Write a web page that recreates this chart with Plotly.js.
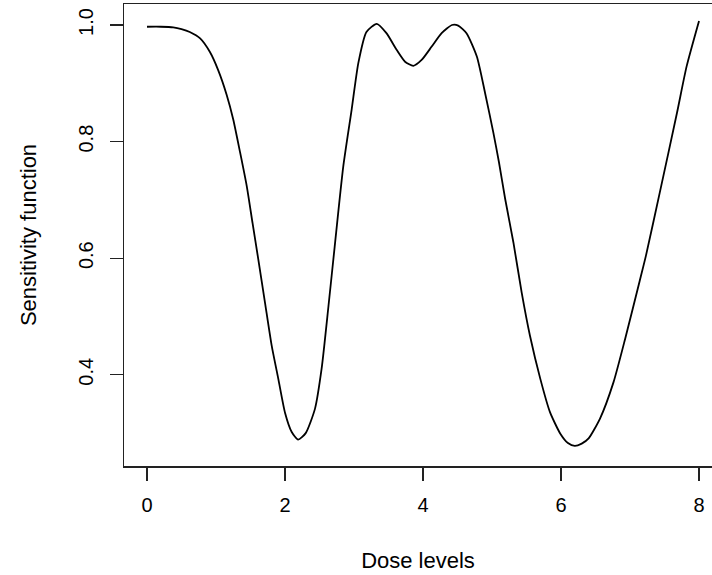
<!DOCTYPE html>
<html>
<head>
<meta charset="utf-8">
<script src="https://cdn.plot.ly/plotly-3.0.1.min.js"></script>
<style>html,body{margin:0;padding:0;background:#fff;}#chart{width:712px;height:575px;}</style>
</head>
<body>
<div id="chart"></div>
<script>
const doseLevels = [0, 0.2, 0.38, 0.5, 0.62, 0.77, 0.91, 1.03, 1.155, 1.25, 1.35, 1.445, 1.53, 1.613, 1.71, 1.807, 1.903, 2.0, 2.097, 2.19, 2.30, 2.435, 2.53, 2.63, 2.72, 2.845, 2.966, 3.063, 3.18, 3.33, 3.47, 3.62, 3.74, 3.86, 3.98, 4.126, 4.27, 4.42, 4.51, 4.63, 4.78, 4.90, 5.02, 5.10, 5.19, 5.31, 5.43, 5.55, 5.70, 5.84, 5.99, 6.10, 6.20, 6.30, 6.40, 6.565, 6.76, 6.93, 7.14, 7.23, 7.43, 7.68, 7.82, 8.0];
const sensitivity = [0.997, 0.997, 0.996, 0.993, 0.988, 0.977, 0.954, 0.923, 0.880, 0.838, 0.781, 0.724, 0.660, 0.598, 0.524, 0.450, 0.393, 0.335, 0.302, 0.289, 0.300, 0.342, 0.410, 0.518, 0.620, 0.758, 0.855, 0.935, 0.988, 1.002, 0.986, 0.957, 0.937, 0.930, 0.940, 0.963, 0.986, 1.000, 0.999, 0.986, 0.946, 0.883, 0.815, 0.765, 0.702, 0.627, 0.541, 0.467, 0.393, 0.336, 0.299, 0.283, 0.278, 0.282, 0.291, 0.325, 0.387, 0.462, 0.561, 0.604, 0.712, 0.849, 0.929, 1.007];
const xTicks = [0, 2, 4, 6, 8];
const xTickLabels = ['0', '2', '4', '6', '8'];
const yTicks = [0.4, 0.6, 0.8, 1.0];
const yTickLabels = ['0.4', '0.6', '0.8', '1.0'];

const tickFont = {family: 'Liberation Sans, Arial, sans-serif', size: 20, color: '#000'};
const titleFont = {family: 'Liberation Sans, Arial, sans-serif', size: 22, color: '#000'};

Plotly.newPlot('chart', [{
  x: doseLevels, y: sensitivity, type: 'scatter', mode: 'lines',
  line: {color: '#000', width: 1.8, shape: 'spline', smoothing: 0.6},
  hoverinfo: 'skip'
}], {
  width: 712, height: 575,
  margin: {l: 124, r: 0, t: 4, b: 109},
  paper_bgcolor: '#fff', plot_bgcolor: '#fff',
  showlegend: false,
  font: tickFont,
  xaxis: {
    range: [-0.3333, 8.188], showgrid: false, zeroline: false,
    showline: true, mirror: true, linecolor: '#222', linewidth: 1.5,
    tickmode: 'array', tickvals: xTicks, ticktext: xTickLabels,
    ticks: 'outside', ticklen: 13, tickcolor: '#222', tickwidth: 1.2,
    ticklabelstandoff: 7,
    tickfont: tickFont,
    title: {text: 'Dose levels', font: titleFont, standoff: 38}
  },
  yaxis: {
    range: [0.2436, 1.036], showgrid: false, zeroline: false,
    showline: true, linecolor: '#222', linewidth: 1.5,
    tickmode: 'array', tickvals: yTicks, ticktext: yTickLabels,
    ticks: 'outside', ticklen: 13, tickcolor: '#222', tickwidth: 1.2,
    tickangle: -90, ticklabelstandoff: 9,
    tickfont: tickFont,
    title: {text: 'Sensitivity function', font: titleFont, standoff: 32}
  }
}, {staticPlot: true, displayModeBar: false});
</script>
</body>
</html>
